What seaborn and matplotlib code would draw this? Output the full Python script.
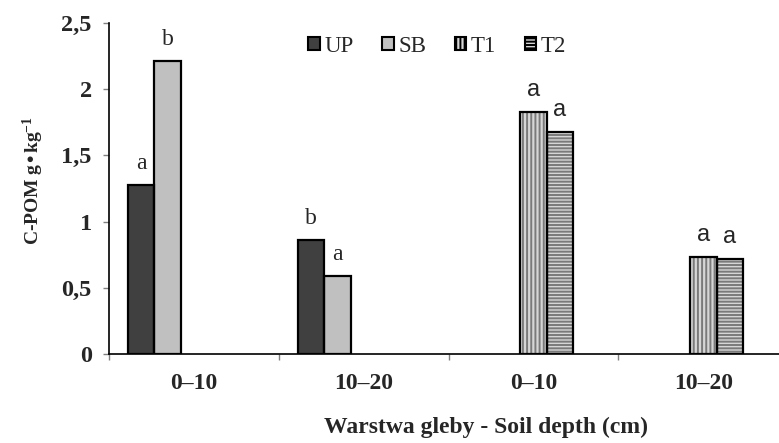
import pandas as pd
import seaborn as sns
import matplotlib.pyplot as plt
from matplotlib.patches import Patch
from matplotlib.ticker import FixedLocator


# data
group_keys = ["g1", "g2", "g3", "g4"]
depth_labels = ["0–10", "10–20", "0–10", "10–20"]
treatments = ["UP", "SB", "T1", "T2"]

bar_group = ["g1", "g1", "g2", "g2", "g3", "g3", "g4", "g4"]
bar_treat = ["UP", "SB", "UP", "SB", "T1", "T2", "T1", "T2"]
cpom = [1.28, 2.21, 0.86, 0.59, 1.83, 1.68, 0.73, 0.72]
letters = ["a", "b", "b", "a", "a", "a", "a", "a"]

yticks = [0, 0.5, 1, 1.5, 2, 2.5]
ytick_labels = ["0", "0,5", "1", "1,5", "2", "2,5"]

# looks of each treatment
face = {"UP": "#404040", "SB": "#c0c0c0", "T1": "#d6d6d6", "T2": "#d6d6d6"}
hatch = {"UP": "", "SB": "", "T1": "||||", "T2": "-----"}


sns.set_style("white")
plt.rcParams["font.family"] = ["Liberation Serif", "DejaVu Serif"]
plt.rcParams["mathtext.default"] = "regular"
plt.rcParams["hatch.linewidth"] = 1.4


def make_df():
    df = pd.DataFrame({"group": bar_group, "treatment": bar_treat, "cpom": cpom})
    return df


def draw_bars(df, ax):
    width = 0.62
    common = dict(data=df, x="group", y="cpom", hue="treatment", order=group_keys,
                  hue_order=treatments, width=width, dodge=True, errorbar=None,
                  legend=False, ax=ax)

    # fill + hatch pass (hatch colour follows the edge colour)
    sns.barplot(**common, palette=face, edgecolor="#7a7a7a", linewidth=0)
    for cont, t in zip(ax.containers, treatments):
        for bar in cont:
            bar.set_hatch(hatch[t])
            if not hatch[t]:
                bar.set_edgecolor("none")

    # black outline pass
    sns.barplot(**common, fill=False, edgecolor="black", linewidth=1.6)
    return width


def letters_on_bars(df, ax):
    outline = ax.containers[len(treatments):]
    for cont, t in zip(outline, treatments):
        sub = df[df["treatment"] == t].reset_index()
        for bar, (_, row) in zip(cont, sub.iterrows()):
            i = df[(df["group"] == row["group"]) & (df["treatment"] == t)].index[0]
            fam = ["Liberation Sans"] if t in ("T1", "T2") else ["Liberation Serif"]
            ax.annotate(letters[i], (bar.get_x() + bar.get_width() / 2, bar.get_height()),
                        xytext=(0, 11.5), textcoords="offset points",
                        ha="center", va="baseline", fontsize=17, family=fam)


def c_pom_chart():
    df = make_df()

    fig = plt.figure(figsize=(7.79, 4.43), dpi=100)
    ax = fig.add_axes([109 / 779, 89 / 443, 670 / 779, 331 / 443])

    width = draw_bars(df, ax)
    letters_on_bars(df, ax)

    # bars sit half a slot left of the group centre, like in Excel
    shift = width / 8
    centres = [i + shift for i in range(len(group_keys))]
    seps = [i - 0.5 + shift for i in range(len(group_keys) + 1)]
    ax.set_xlim(-0.5 + shift, 3.523)
    ax.xaxis.set_major_locator(FixedLocator(seps))
    ax.set_xticklabels([""] * len(seps))
    ax.xaxis.set_minor_locator(FixedLocator(centres))
    ax.set_xticklabels(depth_labels, minor=True, fontsize=17, fontweight="bold")
    ax.tick_params(axis="x", which="major", bottom=True, length=4.5, width=1, color="#808080")
    ax.tick_params(axis="x", which="minor", bottom=True, length=0, pad=14)

    ax.set_ylim(0, 2.5)
    ax.set_yticks(yticks)
    ax.set_yticklabels(ytick_labels, fontsize=17.5, fontweight="bold")
    ax.tick_params(axis="y", left=True, length=4.5, width=1, color="#808080", pad=8)

    for side in ["top", "right"]:
        ax.spines[side].set_visible(False)
    for side in ["left", "bottom"]:
        ax.spines[side].set_color("black")
        ax.spines[side].set_linewidth(1.2)

    ax.set_xlabel("Warstwa gleby - Soil depth (cm)", fontsize=17, fontweight="bold")
    ax.xaxis.set_label_coords(0.563, -0.19)
    ax.set_ylabel("C-POM g•kg$^{\\mathregular{-1}}$", fontsize=14, fontweight="bold")
    ax.yaxis.set_label_coords(-0.094, 0.524)

    handles = [Patch(facecolor=face[t], edgecolor="black", hatch=hatch[t], linewidth=1.5)
               for t in treatments]
    ax.legend(handles, treatments, loc="center", bbox_to_anchor=(0.49, 0.93), ncol=4,
              frameon=False, fontsize=16.5, handlelength=0.5, handleheight=0.5,
              handletextpad=0.2, columnspacing=1.25, borderpad=0)

    fig.savefig("out.png", dpi=100)


c_pom_chart()
